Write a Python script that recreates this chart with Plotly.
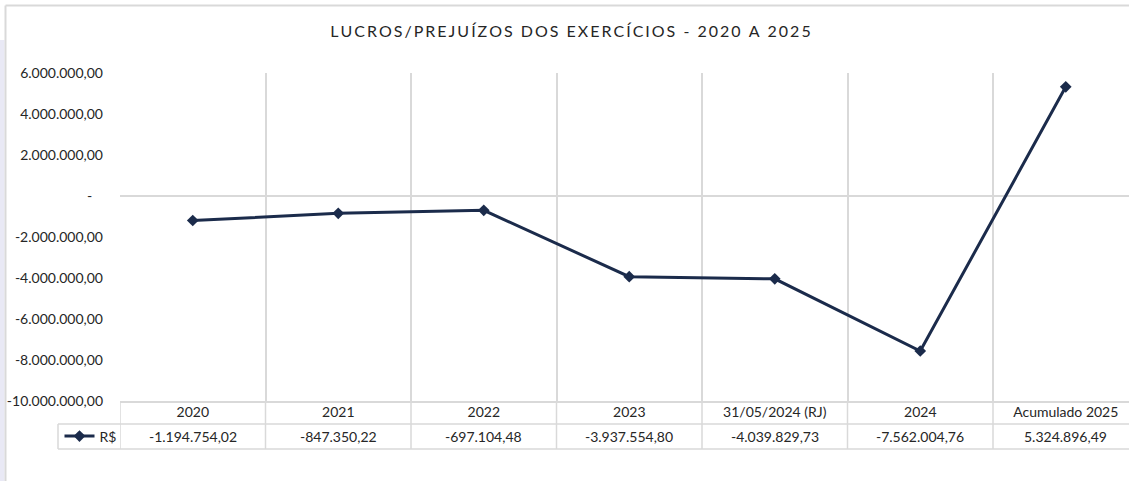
import plotly.graph_objects as go

# ---------------- data ----------------
categories = ["2020", "2021", "2022", "2023", "31/05/2024 (RJ)", "2024", "Acumulado 2025"]
values = [-1194754.02, -847350.22, -697104.48, -3937554.80, -4039829.73, -7562004.76, 5324896.49]
series_name = "R$"
title_text = "LUCROS/PREJUÍZOS DOS EXERCÍCIOS - 2020 A 2025"
y_ticks = [6000000, 4000000, 2000000, 0, -2000000, -4000000, -6000000, -8000000, -10000000]


def fmt_br(v):
    s = f"{v:,.2f}"
    return s.replace(",", "#").replace(".", ",").replace("#", ".")


y_ticktext = [("-\u00a0\u00a0\u00a0" if v == 0 else fmt_br(v)) for v in y_ticks]

# ---------------- layout geometry ----------------
W, H = 1129, 481
ML, MT, MB = 120, 73, 80
PW = W - ML
PH = H - MT - MB
CAT_W = 145.5  # px per category

def px2x(px):
    return (px - ML) / PW

def px2y(py):
    return (H - MB - py) / PH

FONT = "Lato, 'Open Sans', sans-serif"
TXT = "#262626"
GRID = "#d9d9d9"
LINE = "#1b2b4b"

spaced_title = "\u2009".join(title_text)

fig = go.Figure()
fig.add_trace(go.Scatter(
    x=categories, y=values, name=series_name, mode="lines+markers",
    line=dict(color=LINE, width=3),
    marker=dict(symbol="diamond", size=9, color=LINE),
    cliponaxis=False,
))

x_end = -0.5 + PW / CAT_W

shapes = []
# vertical boundary lines extended into the data table
for i in range(len(categories) + 1):
    shapes.append(dict(type="line", xref="x", yref="paper", x0=i - 0.5, x1=i - 0.5,
                       y0=px2y(401), y1=px2y(449), line=dict(color=GRID, width=1.5), layer="below"))
# table horizontal lines
for py in (424, 449):
    shapes.append(dict(type="line", xref="paper", yref="paper", x0=px2x(58), x1=1.0,
                       y0=px2y(py), y1=px2y(py), line=dict(color=GRID, width=1.5)))
shapes.append(dict(type="line", xref="paper", yref="paper", x0=px2x(58), x1=px2x(58),
                   y0=px2y(424), y1=px2y(449), line=dict(color=GRID, width=1.5)))
# outer chart frame & left strip
shapes.append(dict(type="rect", xref="paper", yref="paper", x0=px2x(0), x1=px2x(4.5),
                   y0=px2y(481), y1=px2y(40), fillcolor="#e9e9f5", line=dict(width=0), layer="below"))
shapes.append(dict(type="line", xref="paper", yref="paper", x0=px2x(5.5), x1=1.0,
                   y0=px2y(5.5), y1=px2y(5.5), line=dict(color=GRID, width=2)))
shapes.append(dict(type="line", xref="paper", yref="paper", x0=px2x(5.5), x1=px2x(5.5),
                   y0=px2y(5.5), y1=px2y(481), line=dict(color=GRID, width=2)))

annotations = []
for i, v in enumerate(values):
    annotations.append(dict(x=i, xref="x", y=px2y(436.5), yref="paper", text=fmt_br(v),
                            showarrow=False, xanchor="center", yanchor="middle",
                            font=dict(family=FONT, size=14, color=TXT)))

fig.update_layout(
    width=W, height=H,
    margin=dict(l=ML, r=0, t=MT, b=MB),
    paper_bgcolor="white", plot_bgcolor="white",
    title=dict(text=spaced_title, x=570.5 / W, xref="container", xanchor="center",
               y=1 - 31 / H, yref="container", yanchor="middle",
               font=dict(family=FONT, size=16, color=TXT)),
    xaxis=dict(type="category", range=[-0.5, x_end], tickson="boundaries",
               showgrid=True, gridcolor=GRID, gridwidth=1.5,
               showline=True, linecolor=GRID, linewidth=1.5,
               ticks="", ticklabelstandoff=-3,
               tickfont=dict(family=FONT, size=14, color=TXT),
               fixedrange=True),
    yaxis=dict(range=[-10000000, 6000000], tickvals=y_ticks, ticktext=y_ticktext,
               showgrid=False, zeroline=True, zerolinecolor=GRID, zerolinewidth=1.5,
               showline=False, ticks="", ticklabelstandoff=16,
               tickfont=dict(family=FONT, size=14, color=TXT), fixedrange=True),
    showlegend=True,
    legend=dict(x=px2x(59.5), y=px2y(436.5), xanchor="left", yanchor="middle",
                bgcolor="rgba(0,0,0,0)", font=dict(family=FONT, size=14, color=TXT),
                itemwidth=30, tracegroupgap=0),
    shapes=shapes, annotations=annotations,
)

fig.write_html("out.html", config={"displayModeBar": False},
               post_script="document.body.style.margin='0';")
